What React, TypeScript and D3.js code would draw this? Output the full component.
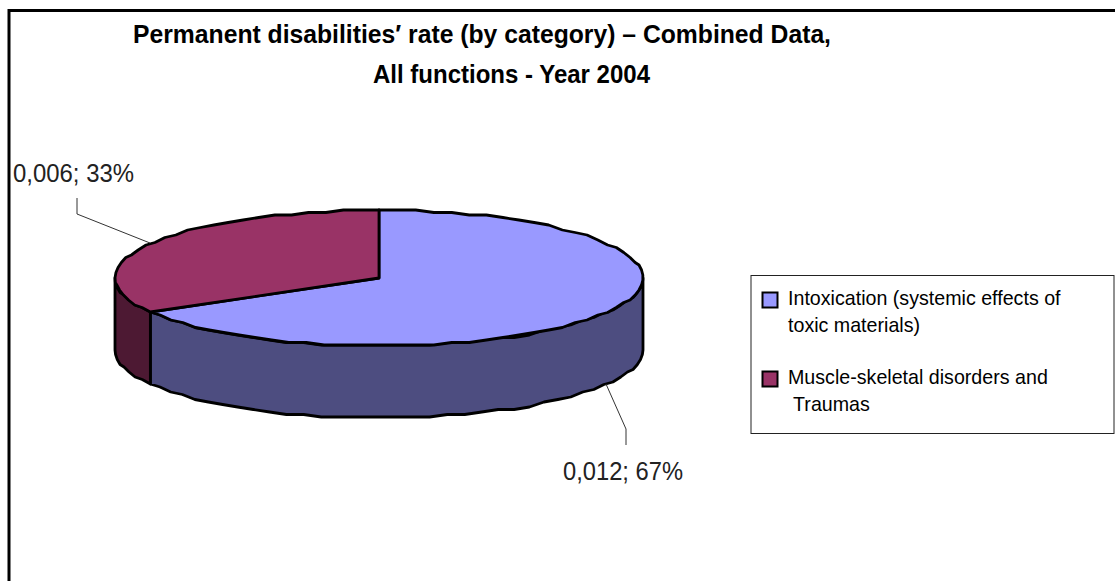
import React from "react";
import * as d3 from "d3";

const categories = ["Intoxication (systemic effects of toxic materials)", "Muscle-skeletal disorders and Traumas"];
const values = [0.012, 0.006];
const valueLabels = ["0,012; 67%", "0,006; 33%"];
const topColors = ["#9999FF", "#993366"];
const sideColors = ["#4D4D80", "#4D1933"];
const titleLines = ["Permanent disabilities\u2032 rate (by category) \u2013 Combined Data,", "All functions - Year 2004"];
const titleWidths = [698, 277];
const legendLines = [["Intoxication (systemic effects of", "toxic materials)"], ["Muscle-skeletal disorders and", " Traumas"]];

const W = 1115, H = 581;
const cx = 379, cy = 278, rx = 264, ry = 68, depth = 72;
const snap = 2.5;

const px = (a: number) => cx + rx * Math.sin(a);
const py = (a: number) => cy - ry * Math.cos(a);
const line = d3.line<[number, number]>();

function arcPts(a0: number, a1: number, dy = 0): [number, number][] {
  const n = Math.max(2, Math.ceil(Math.abs(a1 - a0) / (Math.PI / 45)));
  return d3.range(n + 1).map((i) => {
    const a = a0 + ((a1 - a0) * i) / n;
    const y = py(a);
    const end = i === 0 || i === n;
    return [px(a), (end ? y : Math.round(y / snap) * snap) + dy] as [number, number];
  });
}

export default function App() {
  const slices = d3.pie<number>().sort(null)(values);
  const S = "#000";
  const front = (a0: number, a1: number) => {
    const lo = Math.max(a0, Math.PI / 2), hi = Math.min(a1, (3 * Math.PI) / 2);
    if (hi <= lo) return null;
    const pts = [...arcPts(lo, hi), ...arcPts(hi, lo, depth)];
    return line(pts)! + "Z";
  };
  return (
    <svg width={W} height={H} style={{ position: "fixed", left: 0, top: 0, background: "#fff" }}
      fontFamily="'Liberation Sans', Arial, sans-serif">
      <rect x={9} y={10.5} width={W + 10} height={H + 10} fill="#fff" stroke="#000" strokeWidth={3} />
      {titleLines.map((t, i) => (
        <text key={t} x={i === 0 ? 133 : 373} y={43 + i * 40} fontWeight="bold" fontSize={25.5} textLength={titleWidths[i]} lengthAdjust="spacingAndGlyphs" fill="#000">{t}</text>
      ))}
      {slices.map((s, i) => {
        const d = front(s.startAngle, s.endAngle);
        return d ? <path key={"side" + i} d={d} fill={sideColors[i]} stroke={S} strokeWidth={2.8} strokeLinejoin="round" /> : null;
      })}
      {slices.map((s, i) => (
        <path key={"top" + i}
          d={line([[cx, cy], ...arcPts(s.startAngle, s.endAngle)])! + "Z"}
          fill={topColors[i]} stroke={S} strokeWidth={2.8} strokeLinejoin="round" />
      ))}
      <polyline points={`77,198 77,214 150,243`} fill="none" stroke="#333" strokeWidth={1} />
      <polyline points={`606,384 626,429 626,445`} fill="none" stroke="#333" strokeWidth={1} />
      <text x={13} y={182} fontSize={26} textLength={121} lengthAdjust="spacingAndGlyphs" fill="#222">{valueLabels[1]}</text>
      <text x={563} y={480} fontSize={26} textLength={120} lengthAdjust="spacingAndGlyphs" fill="#222">{valueLabels[0]}</text>
      <rect x={751} y={275.5} width={363} height={158} fill="#fff" stroke="#222" strokeWidth={1} />
      {categories.map((c, i) => {
        const y = i === 0 ? 292.5 : 371.5;
        return (
          <g key={c}>
            <rect x={762.5} y={y} width={15} height={15} fill={topColors[i]} stroke="#000" strokeWidth={2} />
            {legendLines[i].map((l, j) => (
              <text key={j} x={788} y={y + 12.5 + j * 27} fontSize={19.65} fill="#000" xmlSpace="preserve">{l}</text>
            ))}
          </g>
        );
      })}
    </svg>
  );
}
